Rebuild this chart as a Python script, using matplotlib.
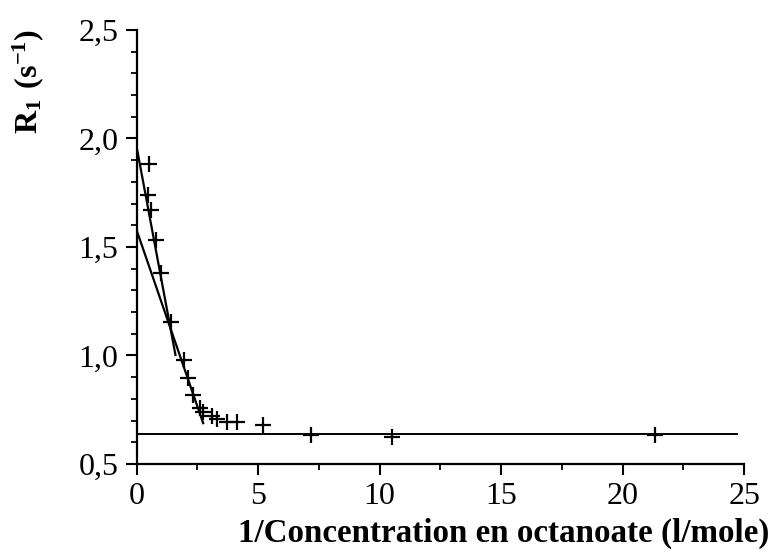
import matplotlib
matplotlib.use('Agg')
import matplotlib.pyplot as plt
from matplotlib.ticker import MultipleLocator, FuncFormatter

plt.rcParams['font.family'] = ['Liberation Serif', 'DejaVu Serif']
plt.rcParams['mathtext.fontset'] = 'custom'
plt.rcParams['mathtext.rm'] = 'Liberation Serif'
plt.rcParams['mathtext.bf'] = 'Liberation Serif:bold'

# mesures : 1/[octanoate] (l/mole) et R1 (s-1)
inv_conc = [0.52, 0.48, 0.59, 0.79, 0.99, 1.41, 1.95, 2.12, 2.33, 2.62, 2.72,
            3.12, 3.30, 3.70, 4.12, 5.19, 7.17, 10.52, 21.33]
r1 = [1.88, 1.74, 1.67, 1.53, 1.38, 1.156, 0.98, 0.895, 0.82, 0.76, 0.74,
      0.72, 0.705, 0.695, 0.695, 0.68, 0.634, 0.626, 0.634]

# droites d'ajustement
fit1_x = [0.0, 1.6]
fit1_y = [1.962, 1.002]
fit2_x = [0.0, 2.74]
fit2_y = [1.578, 0.688]
plateau_x = [0.0, 24.7]
plateau_y = [0.637, 0.637]

fig = plt.figure(figsize=(7.76, 5.53), dpi=100)
ax = fig.add_axes([0.176, 0.161, 0.783, 0.785])

ax.plot(fit1_x, fit1_y, color='black', lw=1.6)
ax.plot(fit2_x, fit2_y, color='black', lw=1.6)
ax.plot(plateau_x, plateau_y, color='black', lw=1.4)
ax.plot(inv_conc, r1, linestyle='none', marker='+', color='black',
        markersize=12, markeredgewidth=1.6)

ax.set_xlim(0, 25)
ax.set_ylim(0.5, 2.5)
ax.xaxis.set_major_locator(MultipleLocator(5))
ax.xaxis.set_minor_locator(MultipleLocator(2.5))
ax.yaxis.set_major_locator(MultipleLocator(0.5))
ax.yaxis.set_minor_locator(MultipleLocator(0.1))
ax.yaxis.set_major_formatter(FuncFormatter(lambda v, p: f'{v:.1f}'.replace('.', ',')))
ax.xaxis.set_major_formatter(FuncFormatter(lambda v, p: f'{v:.0f}'))

for s in ['top', 'right']:
    ax.spines[s].set_visible(False)
for s in ['left', 'bottom']:
    ax.spines[s].set_linewidth(1.6)

ax.tick_params(which='major', direction='out', length=8, width=1.5,
               labelsize=23, pad=5)
ax.tick_params(which='minor', direction='out', length=4.5, width=1.3)

ax.set_ylabel(r'$\mathbf{R_1\ (s^{-1})}$', fontsize=23)
ax.yaxis.set_label_coords(-0.149, 0.88)
ax.set_xlabel('1/Concentration en octanoate (l/mole)', fontsize=23.8,
              fontweight='bold', ha='right', va='center')
ax.xaxis.set_label_coords(1.042, -0.161)

fig.savefig('out.png', dpi=100)
